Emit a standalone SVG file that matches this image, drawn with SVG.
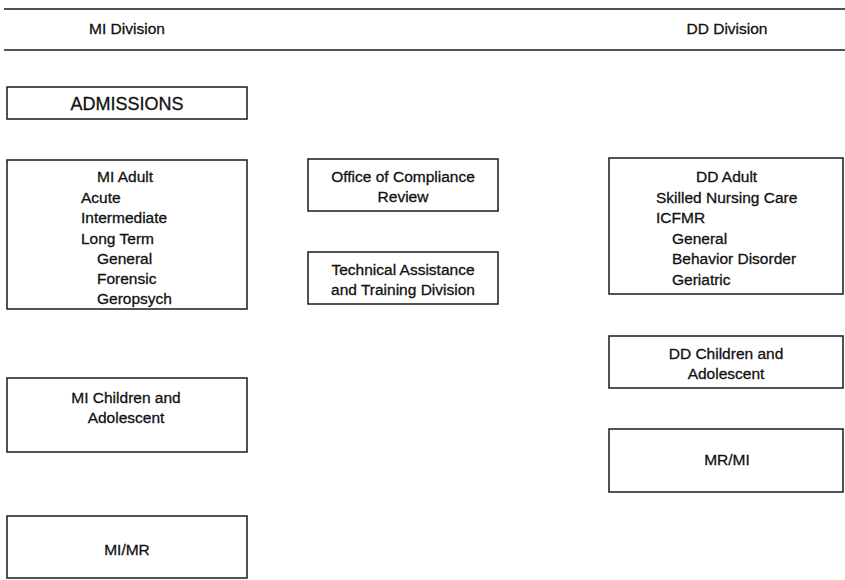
<svg xmlns="http://www.w3.org/2000/svg" width="845" height="580" viewBox="0 0 845 580">
<style>
.bg{fill:#fff}
.box{fill:#fff;stroke:#1a1a1a;stroke-width:1.5}
.rule{stroke:#1a1a1a;stroke-width:1.6}
text{font-family:"Liberation Sans",Arial,sans-serif;font-size:15.5px;fill:#111;stroke:#111;stroke-width:0.3}
.c{text-anchor:middle}
.big{font-size:18px}
</style>
<rect class="bg" x="0" y="0" width="845" height="580"/>
<g id="header">
<line class="rule" x1="4" y1="9" x2="845" y2="9"/>
<line class="rule" x1="4" y1="50" x2="845" y2="50"/>
<text class="c" x="127" y="34">MI Division</text>
<text class="c" x="727" y="34">DD Division</text>
</g>
<g id="admissions">
<rect class="box" x="7" y="87" width="240" height="32"/>
<text class="c big" x="127" y="110">ADMISSIONS</text>
</g>
<g id="mi-adult">
<rect class="box" x="7" y="160" width="240" height="149"/>
<text x="97" y="182">MI Adult</text>
<text x="81" y="203">Acute</text>
<text x="81" y="223">Intermediate</text>
<text x="81" y="244">Long Term</text>
<text x="97" y="264">General</text>
<text x="97" y="284">Forensic</text>
<text x="97" y="304">Geropsych</text>
</g>
<g id="compliance">
<rect class="box" x="308" y="159" width="190" height="52"/>
<text class="c" x="403" y="182">Office of Compliance</text>
<text class="c" x="403" y="202">Review</text>
</g>
<g id="technical">
<rect class="box" x="308" y="252" width="190" height="52"/>
<text class="c" x="403" y="275">Technical Assistance</text>
<text class="c" x="403" y="295">and Training Division</text>
</g>
<g id="dd-adult">
<rect class="box" x="609" y="158" width="234" height="136"/>
<text x="696" y="182">DD Adult</text>
<text x="656" y="203">Skilled Nursing Care</text>
<text x="656" y="223">ICFMR</text>
<text x="672" y="244">General</text>
<text x="672" y="264">Behavior Disorder</text>
<text x="672" y="285">Geriatric</text>
</g>
<g id="dd-children">
<rect class="box" x="609" y="336" width="234" height="52"/>
<text class="c" x="726" y="359">DD Children and</text>
<text class="c" x="726" y="379">Adolescent</text>
</g>
<g id="mr-mi">
<rect class="box" x="609" y="429" width="234" height="63"/>
<text class="c" x="727" y="465">MR/MI</text>
</g>
<g id="mi-children">
<rect class="box" x="7" y="378" width="240" height="74"/>
<text class="c" x="126" y="403">MI Children and</text>
<text class="c" x="126" y="423">Adolescent</text>
</g>
<g id="mi-mr">
<rect class="box" x="7" y="516" width="240" height="62"/>
<text class="c" x="127" y="555">MI/MR</text>
</g>
<g id="connectors"/>
</svg>
